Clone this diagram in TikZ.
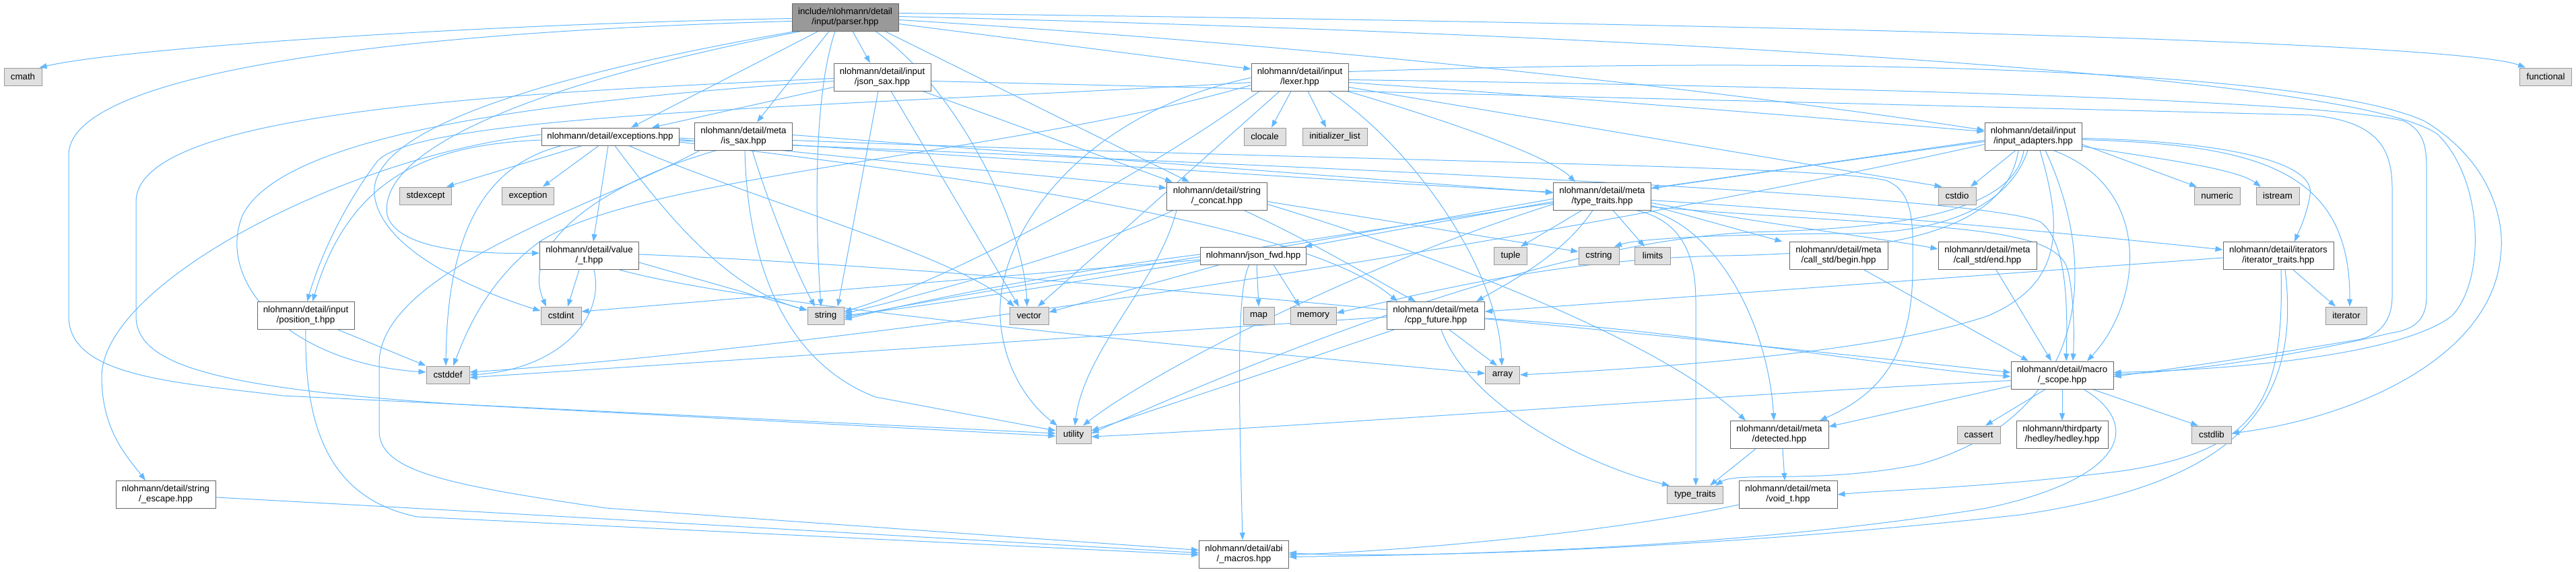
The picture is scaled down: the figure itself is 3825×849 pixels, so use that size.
\documentclass[tikz,border=0pt]{standalone}
\usepackage{fontspec}
\newfontfamily\dox{Liberation Sans}
\usetikzlibrary{arrows.meta}
\definecolor{edgec}{HTML}{63B8FF}
\definecolor{fileb}{HTML}{666666}
\definecolor{sysb}{HTML}{999999}
\definecolor{sysf}{HTML}{E0E0E0}
\definecolor{rootf}{HTML}{999999}
\pgfdeclarelayer{background}
\pgfdeclarelayer{canvas}
\pgfsetlayers{canvas,background,main}
\tikzset{
  base/.style={rectangle, inner sep=0pt, align=center, line width=1pt, font={\dox\fontsize{13.3}{15}\selectfont}},
  file/.style={base, draw=fileb, fill=white},
  sys/.style={base, draw=sysb, fill=sysf},
  root/.style={base, draw=fileb, fill=rootf},
  dep/.style={draw=edgec, line width=1pt, -{Triangle[length=11pt,width=8pt]}},
}
\begin{document}
\begin{tikzpicture}[x=1pt,y=-1pt]
\begin{pgfonlayer}{canvas}
\fill[white] (0,0) rectangle (3825,849);
\end{pgfonlayer}
\useasboundingbox (0,0) rectangle (3825,849);
% nodes
\node[root, minimum width=158pt, minimum height=41pt] (parser) at (1255,25.5) {include/nlohmann/detail\\/input/parser.hpp};
\node[sys, minimum width=56pt, minimum height=26pt] (cmath) at (34,114) {cmath};
\node[file, minimum width=144pt, minimum height=41pt] (jsax) at (1310,114.5) {nlohmann/detail/input\\/json\_sax.hpp};
\node[file, minimum width=144pt, minimum height=41pt] (lexer) at (1930,114.5) {nlohmann/detail/input\\/lexer.hpp};
\node[sys, minimum width=77pt, minimum height=26pt] (functional) at (3780,114) {functional};
\node[file, minimum width=204pt, minimum height=26pt] (exc) at (906,203) {nlohmann/detail/exceptions.hpp};
\node[file, minimum width=145pt, minimum height=41pt] (issax) at (1104,202.5) {nlohmann/detail/meta\\/is\_sax.hpp};
\node[sys, minimum width=62pt, minimum height=26pt] (clocale) at (1878,203) {clocale};
\node[sys, minimum width=96pt, minimum height=26pt] (initlist) at (1982,203) {initializer\_list};
\node[file, minimum width=144pt, minimum height=41pt] (inad) at (3019,202.5) {nlohmann/detail/input\\/input\_adapters.hpp};
\node[sys, minimum width=77pt, minimum height=26pt] (stdexcept) at (632,291) {stdexcept};
\node[sys, minimum width=77pt, minimum height=26pt] (exception) at (784,291) {exception};
\node[file, minimum width=149pt, minimum height=41pt] (scat) at (1807,291.5) {nlohmann/detail/string\\/\_concat.hpp};
\node[file, minimum width=145pt, minimum height=41pt] (tt) at (2379,291.5) {nlohmann/detail/meta\\/type\_traits.hpp};
\node[sys, minimum width=56pt, minimum height=26pt] (cstdio) at (2906,291) {cstdio};
\node[sys, minimum width=68pt, minimum height=26pt] (numeric) at (3292,291) {numeric};
\node[sys, minimum width=64pt, minimum height=26pt] (istream) at (3382,291) {istream};
\node[file, minimum width=147pt, minimum height=41pt] (valt) at (875,380) {nlohmann/detail/value\\/\_t.hpp};
\node[file, minimum width=157pt, minimum height=26pt] (fwd) at (1861,380) {nlohmann/json\_fwd.hpp};
\node[sys, minimum width=49pt, minimum height=26pt] (tuple) at (2243,380) {tuple};
\node[sys, minimum width=60pt, minimum height=26pt] (cstring) at (2374,380) {cstring};
\node[sys, minimum width=53pt, minimum height=26pt] (limits) at (2454,380) {limits};
\node[file, minimum width=146pt, minimum height=41pt] (cbegin) at (2730,380) {nlohmann/detail/meta\\/call\_std/begin.hpp};
\node[file, minimum width=146pt, minimum height=41pt] (cend) at (2951,380) {nlohmann/detail/meta\\/call\_std/end.hpp};
\node[file, minimum width=164pt, minimum height=41pt] (itt) at (3383,380) {nlohmann/detail/iterators\\/iterator\_traits.hpp};
\node[file, minimum width=144pt, minimum height=41pt] (post) at (454,469) {nlohmann/detail/input\\/position\_t.hpp};
\node[sys, minimum width=60pt, minimum height=26pt] (cstdint) at (833,469) {cstdint};
\node[sys, minimum width=54pt, minimum height=26pt] (string) at (1226,469) {string};
\node[sys, minimum width=58pt, minimum height=26pt] (vector) at (1528,469) {vector};
\node[sys, minimum width=46pt, minimum height=26pt] (map) at (1869,469) {map};
\node[sys, minimum width=68pt, minimum height=26pt] (memory) at (1950,469) {memory};
\node[file, minimum width=145pt, minimum height=41pt] (cpp) at (2132,469) {nlohmann/detail/meta\\/cpp\_future.hpp};
\node[sys, minimum width=61pt, minimum height=26pt] (iterator) at (3484,469) {iterator};
\node[sys, minimum width=64pt, minimum height=26pt] (cstddef) at (665,557) {cstddef};
\node[sys, minimum width=51pt, minimum height=26pt] (array) at (2231,557) {array};
\node[file, minimum width=152pt, minimum height=41pt] (macro) at (3062,557.5) {nlohmann/detail/macro\\/\_scope.hpp};
\node[sys, minimum width=52pt, minimum height=26pt] (utility) at (1594,646) {utility};
\node[file, minimum width=146pt, minimum height=41pt] (detected) at (2642,646) {nlohmann/detail/meta\\/detected.hpp};
\node[sys, minimum width=64pt, minimum height=26pt] (cassert) at (2938,646) {cassert};
\node[file, minimum width=136pt, minimum height=41pt] (hedley) at (3062,646) {nlohmann/thirdparty\\/hedley/hedley.hpp};
\node[sys, minimum width=59pt, minimum height=26pt] (cstdlib) at (3284,646) {cstdlib};
\node[file, minimum width=148pt, minimum height=41pt] (sesc) at (246,735) {nlohmann/detail/string\\/\_escape.hpp};
\node[sys, minimum width=83pt, minimum height=26pt] (tts) at (2517,735) {type\_traits};
\node[file, minimum width=146pt, minimum height=41pt] (voidt) at (2655,735) {nlohmann/detail/meta\\/void\_t.hpp};
\node[file, minimum width=133pt, minimum height=41pt] (abi) at (1847,823.5) {nlohmann/detail/abi\\/\_macros.hpp};

\begin{pgfonlayer}{background}
% parser
\draw[dep] ([yshift=-2pt]parser.west) .. controls (700,36) and (180,72) .. ([xshift=-4pt]cmath.north east);
\draw[dep] ([yshift=-6pt]parser.west) .. controls (500,50) and (102,120) .. (102,230) -- (102,470) .. controls (102,560) and (260,568) .. (420,588) -- ([yshift=2pt]utility.west);
\draw[dep] ([xshift=6pt]parser.south west) .. controls (820,110) and (545,190) .. (556,290) .. controls (566,370) and (700,430) .. ([yshift=7pt]cstdint.west);
\draw[dep] ([xshift=14pt]parser.south west) .. controls (760,130) and (560,230) .. (575,320) .. controls (590,370) and (700,378) .. ([yshift=4pt]valt.west);
\draw[dep] ([xshift=-15pt]parser.south) .. controls (1205,150) and (1212,350) .. ([xshift=-7pt]string.north);
\draw[dep] ([xshift=45pt]parser.south) .. controls (1420,130) and (1520,330) .. ([xshift=-3pt]vector.north);
\draw[dep] ([xshift=-40pt]parser.south) -- ([xshift=31pt]exc.north);
\draw[dep] ([xshift=-24pt]parser.south) -- ([xshift=20pt]issax.north);
\draw[dep] ([xshift=11pt]parser.south) -- ([xshift=-18pt]jsax.north);
\draw[dep] ([yshift=-10pt]parser.east) -- ([yshift=12pt]lexer.west);
\draw[dep] ([xshift=59pt]parser.south) -- ([xshift=-41pt]scat.north);
\draw[dep] ([yshift=-4pt]parser.east) .. controls (2000,70) and (2600,140) .. ([yshift=9pt]inad.west);
\draw[dep] ([yshift=6pt]parser.east) .. controls (2600,35) and (3650,62) .. ([xshift=-30pt]functional.north);
\draw[dep] ([yshift=1pt]parser.east) .. controls (2400,50) and (3500,110) .. (3620,200) .. controls (3690,270) and (3690,420) .. (3640,470) .. controls (3560,530) and (3300,550) .. ([yshift=4pt]macro.east);
% exceptions
\draw[dep] ([xshift=-42pt]exc.south) -- ([xshift=-8pt]stdexcept.north east);
\draw[dep] ([xshift=-17pt]exc.south) -- ([xshift=22pt]exception.north);
\draw[dep] ([xshift=-3pt]exc.south) -- ([xshift=6pt]valt.north);
\draw[dep] ([xshift=7pt]exc.south) .. controls (990,320) and (1080,430) .. ([yshift=8pt]string.west);
\draw[dep] ([xshift=28pt]exc.south) .. controls (1100,290) and (1420,380) .. ([xshift=-22pt]vector.north);
\draw[dep] ([xshift=-72pt]exc.south) .. controls (700,250) and (664,380) .. ([xshift=-3pt]cstddef.north);
\draw[dep] ([yshift=3pt]exc.west) .. controls (520,230) and (151,420) .. (151,560) .. controls (151,640) and (190,680) .. ([xshift=-30pt]sesc.north);
\draw[dep] ([yshift=-5pt]exc.west) .. controls (640,215) and (520,260) .. ([xshift=10pt]post.north);
\draw[dep] ([yshift=-4pt]exc.east) .. controls (1300,240) and (1600,265) .. ([yshift=12pt]scat.west);
\draw[dep] ([yshift=-2pt]exc.east) .. controls (1500,235) and (2000,270) .. ([yshift=6pt]tt.west);
\draw[dep] ([yshift=-8pt]exc.east) .. controls (1500,270) and (1950,340) .. ([xshift=-57pt]cpp.north);
\draw[dep] ([yshift=-6pt]exc.east) .. controls (2000,250) and (2950,290) .. (3030,330) .. controls (3070,360) and (3070,460) .. ([xshift=6pt]macro.north);
% json_sax
\draw[dep] ([yshift=-15pt]jsax.west) -- ([xshift=62pt]exc.north);
\draw[dep] ([yshift=-2pt]jsax.west) .. controls (700,140) and (202,170) .. (202,300) -- (202,470) .. controls (202,545) and (330,578) .. (700,602) -- ([yshift=-2pt]utility.west);
\draw[dep] ([yshift=-6pt]jsax.west) .. controls (800,150) and (420,200) .. (360,320) .. controls (320,420) and (430,540) .. ([yshift=4pt]cstddef.west);
\draw[dep] ([xshift=-6pt]jsax.south) -- ([xshift=18pt]string.north);
\draw[dep] ([xshift=13pt]jsax.south) -- ([xshift=-15pt]vector.north);
\draw[dep] ([xshift=60pt]jsax.south) -- ([xshift=-66pt]scat.north);
\draw[dep] ([yshift=-6pt]jsax.east) .. controls (2200,140) and (3000,160) .. (3430,171) .. controls (3530,180) and (3552,220) .. (3552,280) -- (3552,440) .. controls (3552,480) and (3530,500) .. (3500,505) .. controls (3350,530) and (3250,545) .. ([yshift=-2pt]macro.east);
% is_sax
\draw[dep] ([xshift=-40pt]issax.south) .. controls (900,270) and (770,360) .. ([xshift=-22pt]cstdint.north);
\draw[dep] ([xshift=2pt]issax.south) .. controls (1110,400) and (1170,540) .. (1300,590) -- ([yshift=6pt]utility.west);
\draw[dep] ([xshift=13pt]issax.south) .. controls (1140,300) and (1180,400) .. ([xshift=-16pt]string.north);
\draw[dep] ([xshift=-65pt]issax.south) .. controls (900,300) and (563,400) .. (563,540) -- (563,640) .. controls (563,700) and (660,720) .. (900,755) -- ([yshift=6pt]abi.west);
\draw[dep] ([yshift=-6pt]issax.east) .. controls (2000,240) and (2700,245) .. (2800,268) .. controls (2845,285) and (2840,340) .. (2840,400) .. controls (2840,540) and (2780,590) .. ([xshift=60pt]detected.north);
\draw[dep] ([yshift=2pt]issax.east) -- ([yshift=5pt]tt.west);
% lexer
\draw[dep] ([xshift=-13pt]lexer.south) -- ([xshift=10pt]clocale.north);
\draw[dep] ([xshift=12pt]lexer.south) -- ([xshift=-13pt]initlist.north);
\draw[dep] ([xshift=43pt]lexer.south) .. controls (2100,220) and (2225,400) .. ([xshift=-1pt]array.north);
\draw[dep] ([xshift=70pt]lexer.south) .. controls (2120,170) and (2300,230) .. ([xshift=-40pt]tt.north);
\draw[dep] ([yshift=-8pt]lexer.east) .. controls (2400,150) and (2700,175) .. ([yshift=7pt]inad.west);
\draw[dep] ([yshift=-8pt]lexer.west) .. controls (1200,160) and (620,170) .. (560,240) .. controls (500,320) and (470,400) .. ([xshift=2pt]post.north);
\draw[dep] ([xshift=-60pt]lexer.south) .. controls (1700,260) and (1400,420) .. ([yshift=6pt]string.east);
\draw[dep] ([xshift=-30pt]lexer.south) -- ([xshift=13pt]vector.north);
\draw[dep] ([yshift=-1pt]lexer.west) .. controls (1600,170) and (1480,350) .. (1485,470) .. controls (1490,560) and (1540,610) .. ([xshift=-24pt]utility.north);
\draw[dep] ([yshift=-12pt]lexer.west) .. controls (1500,230) and (950,260) .. (800,360) .. controls (720,420) and (690,500) .. ([xshift=8pt]cstddef.north);
\draw[dep] ([yshift=-15pt]lexer.east) -- ([xshift=6pt]cstdio.north west);
\draw[dep] ([yshift=8pt]lexer.east) .. controls (2800,80) and (3450,110) .. (3600,180) .. controls (3700,240) and (3720,330) .. (3713,380) .. controls (3700,530) and (3500,620) .. ([yshift=2pt]cstdlib.east);
\draw[dep] ([yshift=-4pt]lexer.east) .. controls (2800,130) and (3450,150) .. (3570,180) .. controls (3600,195) and (3603,220) .. (3603,250) -- (3603,440) .. controls (3603,480) and (3580,490) .. (3550,495) .. controls (3400,530) and (3250,552) .. ([yshift=1pt]macro.east);
% input_adapters
\draw[dep] ([xshift=-26pt]inad.south) -- ([xshift=20pt]cstdio.north);
\draw[dep] ([yshift=-12pt]inad.east) -- ([xshift=-30pt]numeric.north);
\draw[dep] ([yshift=-15pt]inad.east) .. controls (3200,235) and (3320,250) .. ([xshift=-25pt]istream.north);
\draw[dep] ([yshift=-3pt]inad.east) .. controls (3300,210) and (3440,240) .. (3430,290) .. controls (3425,320) and (3415,340) .. ([xshift=24pt]itt.north);
\draw[dep] ([yshift=-5pt]inad.east) .. controls (3350,215) and (3490,250) .. ([xshift=5pt]iterator.north);
\draw[dep] ([xshift=30pt]inad.south) .. controls (3200,280) and (3180,450) .. ([xshift=37pt]macro.north);
\draw[dep] ([yshift=-6pt]inad.west) -- ([yshift=12pt]tt.east);
\draw[dep] ([xshift=10pt]inad.south) .. controls (3060,330) and (3070,420) .. (2950,470) .. controls (2800,520) and (2500,545) .. (array.east);
\draw[dep] ([yshift=-12pt]inad.west) .. controls (2200,380) and (1200,520) .. ([yshift=4pt]cstddef.east);
\draw[dep] ([xshift=-8pt]inad.south) .. controls (2985,300) and (2900,345) .. (2750,347) .. controls (2550,348) and (2430,355) .. ([xshift=23pt]cstring.north);
\draw[dep] ([xshift=-22pt]inad.south) .. controls (2980,330) and (2850,375) .. (2560,380) .. controls (2300,385) and (2100,440) .. ([yshift=4pt]memory.east);
\draw[dep] ([yshift=-8pt]inad.west) .. controls (2500,270) and (1500,420) .. ([yshift=-3pt]string.east);
\draw[dep] ([xshift=-14pt]inad.south) .. controls (2990,320) and (2800,340) .. (2600,345) .. controls (2300,360) and (1900,520) .. ([yshift=2pt]utility.east);
\draw[dep] ([xshift=18pt]inad.south) .. controls (3120,400) and (3100,620) .. (2850,690) .. controls (2700,720) and (2580,700) .. ([xshift=30pt]tts.north);
% string_concat
\draw[dep] ([yshift=-8pt]scat.east) -- ([yshift=6pt]cstring.west);
\draw[dep] ([xshift=-65pt]scat.south) .. controls (1600,380) and (1320,450) .. ([yshift=3pt]string.east);
\draw[dep] ([xshift=-60pt]scat.south) .. controls (1720,420) and (1610,520) .. ([xshift=2pt]utility.north);
\draw[dep] ([xshift=40pt]scat.south) .. controls (1950,360) and (2050,420) .. ([xshift=-30pt]cpp.north);
\draw[dep] ([yshift=-12pt]scat.east) .. controls (2200,400) and (2480,520) .. ([xshift=-50pt]detected.north);
% type_traits.hpp
\draw[dep] ([xshift=-30pt]tt.south) -- ([xshift=15pt]tuple.north);
\draw[dep] ([xshift=16pt]tt.south) -- ([xshift=-12pt]limits.north);
\draw[dep] ([xshift=50pt]tt.south) .. controls (2510,330) and (2518,400) .. (2518,450) -- ([xshift=1pt]tts.north);
\draw[dep] ([yshift=-12pt]tt.west) .. controls (2000,400) and (1700,560) .. ([xshift=14pt]utility.north);
\draw[dep] ([yshift=-4pt]tt.west) .. controls (2000,350) and (1500,440) .. (string.east);
\draw[dep] ([yshift=-8pt]tt.west) -- ([xshift=-3pt]fwd.north east);
\draw[dep] ([xshift=-14pt]tt.south) .. controls (2320,380) and (2240,420) .. ([xshift=60pt]cpp.north);
\draw[dep] ([yshift=-14pt]tt.east) -- ([xshift=-10pt]cbegin.north west);
\draw[dep] ([yshift=-10pt]tt.east) .. controls (2600,330) and (2800,355) .. ([yshift=10pt]cend.west);
\draw[dep] ([yshift=-6pt]tt.east) .. controls (2800,320) and (3100,350) .. ([yshift=9pt]itt.west);
\draw[dep] ([yshift=-16pt]tt.east) .. controls (2850,340) and (3050,330) .. (3070,400) .. controls (3080,440) and (3080,500) .. ([xshift=16pt]macro.north);
\draw[dep] ([xshift=70pt]tt.south) .. controls (2550,340) and (2625,480) .. ([xshift=-8pt]detected.north);
% json_fwd
\draw[dep] ([xshift=5pt]fwd.south) -- (map.north);
\draw[dep] ([xshift=30pt]fwd.south) -- ([xshift=-20pt]memory.north);
\draw[dep] ([xshift=-6pt]fwd.south) .. controls (1835,430) and (1840,600) .. ([xshift=-2pt]abi.north);
\draw[dep] ([yshift=2pt]fwd.west) .. controls (1600,400) and (1350,450) .. ([yshift=-6pt]string.east);
\draw[dep] ([xshift=-50pt]fwd.south) -- ([yshift=5pt]vector.east);
\draw[dep] ([yshift=-6pt]fwd.west) -- ([yshift=6pt]cstdint.east);
% value_t
\draw[dep] ([xshift=-15pt]valt.south) -- ([xshift=10pt]cstdint.north);
\draw[dep] ([xshift=7pt]valt.south) .. controls (900,480) and (820,550) .. (cstddef.east);
\draw[dep] ([yshift=-10pt]valt.east) -- ([yshift=8pt]string.west);
\draw[dep] ([xshift=45pt]valt.south) .. controls (1100,450) and (1600,500) .. ([yshift=2pt]array.west);
\draw[dep] ([yshift=2pt]valt.east) .. controls (1500,400) and (2500,500) .. ([yshift=4pt]macro.west);
% cpp_future
\draw[dep] ([xshift=20pt]cpp.south) -- ([xshift=-8pt]array.north);
\draw[dep] ([yshift=-2pt]cpp.west) -- ([yshift=-4pt]cstddef.east);
\draw[dep] ([xshift=-62pt]cpp.south) -- ([yshift=6pt]utility.east);
\draw[dep] ([xshift=8pt]cpp.south) .. controls (2180,600) and (2350,690) .. ([xshift=-38pt]tts.north);
\draw[dep] ([yshift=-4pt]cpp.east) .. controls (2500,490) and (2800,545) .. ([yshift=-2pt]macro.west);
% macro_scope
\draw[dep] ([yshift=-8pt]macro.west) .. controls (2500,590) and (2000,630) .. ([yshift=-3pt]utility.east);
\draw[dep] ([yshift=-16pt]macro.west) -- ([yshift=12pt]detected.east);
\draw[dep] ([xshift=-25pt]macro.south) -- ([xshift=10pt]cassert.north);
\draw[dep] (macro.south) -- (hedley.north);
\draw[dep] ([xshift=45pt]macro.south) -- ([xshift=-20pt]cstdlib.north);
\draw[dep] ([xshift=32pt]macro.south) .. controls (3180,630) and (3160,710) .. (2950,755) .. controls (2550,820) and (2100,825) .. ([yshift=-4pt]abi.east);
% detected, void_t, call_std
\draw[dep] ([xshift=-35pt]detected.south) -- ([xshift=22pt]tts.north);
\draw[dep] ([xshift=5pt]detected.south) -- ([xshift=-5pt]voidt.north);
\draw[dep] ([yshift=-15pt]voidt.west) .. controls (2400,790) and (2100,818) .. ([yshift=-1pt]abi.east);
\draw[dep] ([xshift=38pt]cbegin.south) -- ([xshift=-50pt]macro.north);
\draw[dep] ([xshift=13pt]cend.south) -- ([xshift=-16pt]macro.north);
% iterator_traits
\draw[dep] ([xshift=22pt]itt.south) -- ([xshift=-16pt]iterator.north);
\draw[dep] ([yshift=-3pt]itt.west) -- ([yshift=6pt]cpp.east);
\draw[dep] ([xshift=4pt]itt.south) .. controls (3392,600) and (3350,670) .. (3150,700) .. controls (2950,725) and (2800,728) .. (voidt.east);
\draw[dep] ([xshift=10pt]itt.south) .. controls (3420,620) and (3300,720) .. (3000,765) .. controls (2500,820) and (2050,830) .. ([yshift=2pt]abi.east);
% position_t, string_escape
\draw[dep] ([xshift=48pt]post.south) -- (cstddef.north west);
\draw[dep] (post.south) .. controls (452,620) and (480,740) .. (620,768) -- ([yshift=-1pt]abi.west);
\draw[dep] ([yshift=-4pt]sesc.east) .. controls (800,765) and (1400,800) .. ([yshift=2pt]abi.west);
\end{pgfonlayer}
\end{tikzpicture}
\end{document}
